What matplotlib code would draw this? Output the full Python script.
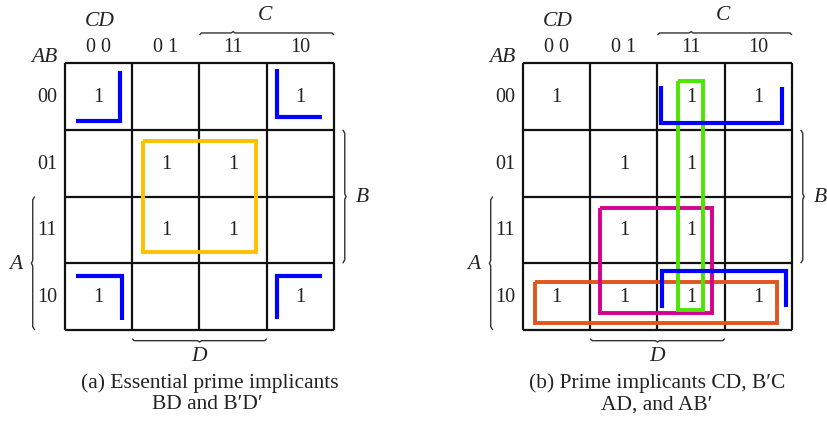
import matplotlib.pyplot as plt

# K-map cell values, rows AB = 00,01,11,10 ; cols CD = 00,01,11,10
row_labels = ['00', '01', '11', '10']
col_labels = ['0 0', '0 1', '11', '10']
kmap_a = [[1, 0, 0, 1],
          [0, 1, 1, 0],
          [0, 1, 1, 0],
          [1, 0, 0, 1]]
kmap_b = [[1, 0, 1, 1],
          [0, 1, 1, 0],
          [0, 1, 1, 0],
          [1, 1, 1, 1]]
caption_a = ['(a) Essential prime implicants', 'BD and B\u2032D\u2032']
caption_b = ['(b) Prime implicants CD, B\u2032C', 'AD, and AB\u2032']

# groupings, in cell units (x = column, y = row)
rects_a = [((1.16, 2.84), (1.17, 2.83), '#FFC000')]          # BD
corners_a = [[(0.16, 0.87), (0.82, 0.87), (0.82, 0.12)],     # B'D'
             [(3.15, 0.09), (3.15, 0.81), (3.82, 0.81)],
             [(0.16, 3.19), (0.85, 3.19), (0.85, 3.85)],
             [(3.82, 3.19), (3.15, 3.19), (3.15, 3.84)]]
rects_b = [((0.18, 3.78), (3.28, 3.90), '#E0561E'),          # AB'
           ((1.14, 2.81), (2.17, 3.75), '#D6008F'),          # AD
           ((2.30, 2.68), (0.27, 3.70), '#4CE600')]          # CD
corners_b = [[(2.05, 0.34), (2.05, 0.90), (3.85, 0.90), (3.85, 0.36)],   # B'C
             [(2.07, 3.67), (2.07, 3.12), (3.91, 3.12), (3.91, 3.65)]]

serif = ['Liberation Serif', 'DejaVu Serif']
CW, CH = 67.25, 66.75

fig = plt.figure(figsize=(8.28, 4.27), dpi=100)
ax = fig.add_axes([0, 0, 1, 1])
ax.set_xlim(0, 828)
ax.set_ylim(427, 0)
ax.axis('off')


def draw_map(x0, y0, kmap, rects, corners, caption, cap_x):
    P = lambda c, r: (x0 + c * CW, y0 + r * CH)

    def line(pts, **kw):
        xs = [P(c, r)[0] for c, r in pts]
        ys = [P(c, r)[1] for c, r in pts]
        ax.plot(xs, ys, solid_capstyle='butt', solid_joinstyle='miter', **kw)

    for i in range(5):
        line([(i, 0), (i, 4)], color='#111111', lw=1.6)
        line([(0, i), (4, i)], color='#111111', lw=1.6)

    for r in range(4):
        for c in range(4):
            if kmap[r][c]:
                x, y = P(c + 0.5, r + 0.5)
                ax.text(x, y, '1', ha='center', va='center', fontsize=14.5, family=serif, color='#222222')

    for j, lab in enumerate(col_labels):
        x, y = P(j + 0.5, -0.24)
        ax.text(x, y, lab, ha='center', va='center', fontsize=14.5, family=serif, color='#222222')
    for j, lab in enumerate(row_labels):
        x, y = P(-0.27, j + 0.5)
        ax.text(x, y, lab, ha='center', va='center', fontsize=14.5, family=serif, color='#222222')

    for txt, c, r in [('CD', 0.52, -0.63), ('AB', -0.31, -0.09), ('C', 2.97, -0.73),
                      ('D', 2.0, 4.38), ('A', -0.74, 3.0), ('B', 4.42, 2.0)]:
        x, y = P(c, r)
        ax.text(x, y, txt, ha='center', va='center', fontsize=15.5, family=serif,
                style='italic', color='#222222')

    # braces
    bc = '#333333'
    line([(2.0, -0.42), (2.03, -0.45), (2.47, -0.45), (2.5, -0.47),
          (2.53, -0.45), (3.97, -0.45), (4.0, -0.42)], color=bc, lw=1.0)
    line([(1.0, 4.13), (1.03, 4.16), (1.97, 4.16), (2.0, 4.18),
          (2.03, 4.16), (2.97, 4.16), (3.0, 4.13)], color=bc, lw=1.0)
    line([(-0.45, 2.0), (-0.48, 2.05), (-0.48, 2.96), (-0.50, 3.0),
          (-0.48, 3.04), (-0.48, 3.95), (-0.45, 4.0)], color=bc, lw=1.0)
    line([(4.13, 1.0), (4.16, 1.05), (4.16, 1.96), (4.18, 2.0),
          (4.16, 2.04), (4.16, 2.95), (4.13, 3.0)], color=bc, lw=1.0)

    for (xa, xb), (ya, yb), col in rects:
        line([(xa, ya), (xb, ya), (xb, yb), (xa, yb), (xa, ya)], color=col, lw=2.8)
    for pts in corners:
        line(pts, color='#0000FF', lw=3.0)

    ax.text(cap_x[0], 383, caption[0], ha='center', va='center', fontsize=15.5, family=serif, color='#222222')
    ax.text(cap_x[1], 405, caption[1], ha='center', va='center', fontsize=15.5, family=serif, color='#222222')


draw_map(65, 64, kmap_a, rects_a, corners_a, caption_a, (210, 207))
draw_map(523, 64, kmap_b, rects_b, corners_b, caption_b, (657, 657))

fig.savefig('out.png', dpi=100)
